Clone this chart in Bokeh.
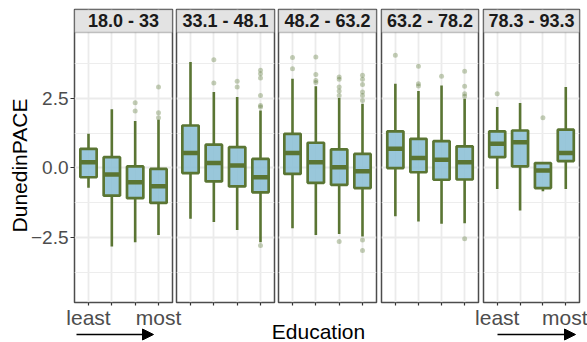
import math
from bokeh.plotting import figure
from bokeh.layouts import row, column
from bokeh.models import (Range1d, FixedTicker, BoxAnnotation, Label, Arrow,
                          NormalHead, ColumnDataSource)
from bokeh.core.properties import value
from bokeh.embed import file_html
from bokeh.resources import INLINE

# ---------------- data ----------------
age_groups = ["18.0 - 33", "33.1 - 48.1", "48.2 - 63.2", "63.2 - 78.2", "78.3 - 93.3"]
education = [1, 2, 3, 4]
edu_labels = {1: "least", 2: "", 3: "", 4: "most"}
labelled_panels = [0, 4]

whisker_low = [[-0.72, -2.83, -2.67, -2.41],
               [-1.83, -1.95, -2.23, -2.67],
               [-2.17, -2.41, -2.38, -2.47],
               [-1.74, -1.93, -2.01, -1.99],
               [-0.76, -1.53, -0.84, -0.76]]
q1 = [[-0.34, -1.00, -1.09, -1.26],
      [-0.19, -0.49, -0.67, -0.88],
      [-0.22, -0.54, -0.61, -0.73],
      [-0.01, -0.16, -0.43, -0.42],
      [0.38, 0.05, -0.73, 0.24]]
median = [[0.20, -0.24, -0.52, -0.66],
          [0.53, 0.17, 0.08, -0.34],
          [0.53, 0.20, 0.02, -0.12],
          [0.68, 0.35, 0.29, 0.20],
          [0.86, 0.92, -0.10, 0.53]]
q3 = [[0.68, 0.38, 0.05, -0.04],
      [1.52, 0.83, 0.74, 0.32],
      [1.22, 0.90, 0.66, 0.50],
      [1.31, 1.04, 0.96, 0.77],
      [1.31, 1.34, 0.17, 1.37]]
whisker_high = [[1.22, 2.10, 1.68, 1.73],
                [3.80, 2.72, 2.54, 2.06],
                [3.20, 2.93, 2.51, 2.30],
                [3.02, 2.76, 2.96, 2.48],
                [2.18, 2.33, 0.17, 2.90]]

# outliers: panel index, education level, value
out_panel = [0, 0, 0, 0, 0,
             1, 1, 1, 1, 1, 1, 1, 1, 1, 1, 1,
             2, 2, 2, 2, 2, 2, 2, 2, 2, 2, 2, 2, 2, 2, 2, 2, 2, 2, 2, 2,
             3, 3, 3, 3, 3, 3, 3, 3, 3, 3,
             4, 4]
out_edu = [3, 3, 4, 4, 4,
           2, 2, 3, 3, 4, 4, 4, 4, 4, 4, 4,
           1, 1, 2, 2, 2, 2, 3, 3, 3, 3, 3, 3, 4, 4, 4, 4, 4, 4, 4, 4,
           1, 2, 2, 2, 3, 4, 4, 4, 4, 4,
           1, 3]
out_val = [2.34, 2.04, 2.90, 1.98, 1.80,
           3.88, 3.05, 3.11, 2.90, 3.50, 3.38, 3.23, 2.60, 2.24, 2.18, -2.79,
           3.96, 3.56, 3.98, 3.35, 3.14, 3.06, 3.26, 3.18, 2.90, 2.76, 2.60, -2.65,
           3.32, 3.18, 2.99, 2.72, 2.60, 2.42, -2.59, -2.97,
           4.04, 3.65, 3.02, 2.94, 3.29, 3.47, 2.93, 2.66, 2.57, -2.55,
           2.66, 1.80]

y_ticks = [-2.5, 0.0, 2.5]
y_tick_labels = ["\u22122.5", "0.0", "2.5"]
y_minor = [-3.75, -1.25, 1.25, 3.75]
y_title = "DunedinPACE"
x_title = "Education"

# ---------------- layout / styling ----------------
W, H = 587, 342
GREEN = "#5a7533"
BLUE = "#8ec1d6"
BORDER = "#4d4d4d"
FONT = "Liberation Sans"
BOX_W = 0.7
XLO, XHI = 0.4, 4.6

Y0_PX = 167.3          # pixel row of value 0
PX = 27.84             # pixels per unit on the y scale
FRAME_TOP, FRAME_BOT = 9, 302


def y_at(px_row):
    return (Y0_PX - px_row) / PX


YMAX, YMIN = y_at(FRAME_TOP), y_at(FRAME_BOT)
PANEL_HI = y_at(32)

panel_left = [74, 176, 278, 381, 483]
panel_right = [172, 274, 376, 478, 579]

figs = []
for i, name in enumerate(age_groups):
    p = figure(width=W, height=H, x_range=Range1d(XLO, XHI), y_range=Range1d(YMIN, YMAX),
               output_backend="svg", toolbar_location=None,
               y_axis_location="left" if i == 0 else None,
               min_border_left=panel_left[i], min_border_right=W - panel_right[i],
               min_border_top=FRAME_TOP, min_border_bottom=H - FRAME_BOT)
    if i > 0:
        p.margin = (0, 0, 0, -W)      # stack every panel canvas on the same spot
    p.background_fill_color = "white"
    p.border_fill_alpha = 0
    p.outline_line_color = BORDER
    p.outline_line_width = 1.5

    # grid
    p.xgrid.ticker = FixedTicker(ticks=education)
    p.xgrid.grid_line_color = "#ebebeb"
    p.xgrid.grid_line_width = 1.8
    p.ygrid.ticker = FixedTicker(ticks=y_ticks, minor_ticks=y_minor)
    p.ygrid.grid_line_color = "#ebebeb"
    p.ygrid.grid_line_width = 1.8
    p.ygrid.minor_grid_line_color = "#ededed"
    p.ygrid.minor_grid_line_width = 1.0

    # x axis
    xa = p.xaxis[0]
    xa.ticker = FixedTicker(ticks=education)
    xa.major_label_overrides = (dict(edu_labels) if i in labelled_panels
                                else {k: "" for k in education})
    xa.axis_line_color = None
    xa.major_tick_line_color = "#333333"
    xa.major_tick_line_width = 1.2
    xa.major_tick_out = 3
    xa.major_tick_in = 0
    xa.minor_tick_line_color = None
    xa.major_label_text_font = FONT
    xa.major_label_text_font_size = "21px"
    xa.major_label_text_color = "#4d4d4d"
    xa.major_label_standoff = 0

    if i == 0:
        ya = p.yaxis[0]
        ya.ticker = FixedTicker(ticks=y_ticks)
        ya.major_label_overrides = dict(zip(y_ticks, y_tick_labels))
        ya.axis_line_color = None
        ya.major_tick_line_color = "#333333"
        ya.major_tick_line_width = 1.2
        ya.major_tick_out = 4
        ya.major_tick_in = 0
        ya.minor_tick_line_color = None
        ya.major_label_text_font = FONT
        ya.major_label_text_font_size = "19px"
        ya.major_label_text_color = "#4d4d4d"
        ya.major_label_standoff = 2

    src = ColumnDataSource(dict(
        x=education,
        lo=whisker_low[i], q1=q1[i], med=median[i], q3=q3[i], hi=whisker_high[i],
        x0=[e - BOX_W / 2 for e in education],
        x1=[e + BOX_W / 2 for e in education],
    ))
    # whiskers
    p.segment(x0="x", y0="q3", x1="x", y1="hi", source=src,
              line_color=GREEN, line_width=2.6)
    p.segment(x0="x", y0="lo", x1="x", y1="q1", source=src,
              line_color=GREEN, line_width=2.6)
    # boxes
    p.vbar(x="x", width=BOX_W, bottom="q1", top="q3", source=src,
           fill_color=BLUE, fill_alpha=0.9, line_color=GREEN, line_width=2.7)
    # medians
    p.segment(x0="x0", y0="med", x1="x1", y1="med", source=src,
              line_color=GREEN, line_width=4.5)
    # outliers
    ox = [e for pnl, e in zip(out_panel, out_edu) if pnl == i]
    oy = [v for pnl, v in zip(out_panel, out_val) if pnl == i]
    p.scatter(x=ox, y=oy, size=5, fill_color=GREEN, fill_alpha=0.35,
              line_color=None)

    # facet strip
    p.add_layout(BoxAnnotation(left=XLO, right=XHI, bottom=PANEL_HI, top=YMAX,
                               fill_color="#e3e3e3", fill_alpha=1.0,
                               line_color=BORDER, line_width=1.5))
    p.add_layout(Label(x=(XLO + XHI) / 2, y=(PANEL_HI + YMAX) / 2, text=name,
                       text_font=FONT, text_font_style="bold",
                       text_font_size="18px", text_color="#1a1a1a",
                       text_align="center", text_baseline="middle"))
    figs.append(p)

panel_row = row(*figs, spacing=0)

# transparent overlay (pixel space, y measured upward) for shared titles and arrows
ov = figure(width=W, height=H, x_range=Range1d(0, W), y_range=Range1d(0, H),
            output_backend="svg", toolbar_location=None,
            x_axis_location=None, y_axis_location=None,
            min_border_left=0, min_border_right=0, min_border_top=0, min_border_bottom=0)
ov.margin = (-H, 0, 0, 0)
ov.grid.grid_line_color = None
ov.outline_line_color = None
ov.background_fill_alpha = 0
ov.border_fill_alpha = 0
ov.text(x=[18.5], y=[H - 165], text=[y_title], angle=math.pi / 2,
        text_font=value(FONT), text_font_size="21px", text_color="black",
        text_align="center", text_baseline="middle")
ov.text(x=[318], y=[H - 330.5], text=[x_title],
        text_font=value(FONT), text_font_size="21px", text_color="black",
        text_align="center", text_baseline="middle")
for xs, xe in ((76, 153), (497, 575)):
    ov.add_layout(Arrow(end=NormalHead(size=11, fill_color="black", line_color="black"),
                        x_start=xs, y_start=H - 334, x_end=xe, y_end=H - 334,
                        line_color="black", line_width=1.5))

layout = column(panel_row, ov, spacing=0)
open("out.html", "w").write(file_html(layout, INLINE))
